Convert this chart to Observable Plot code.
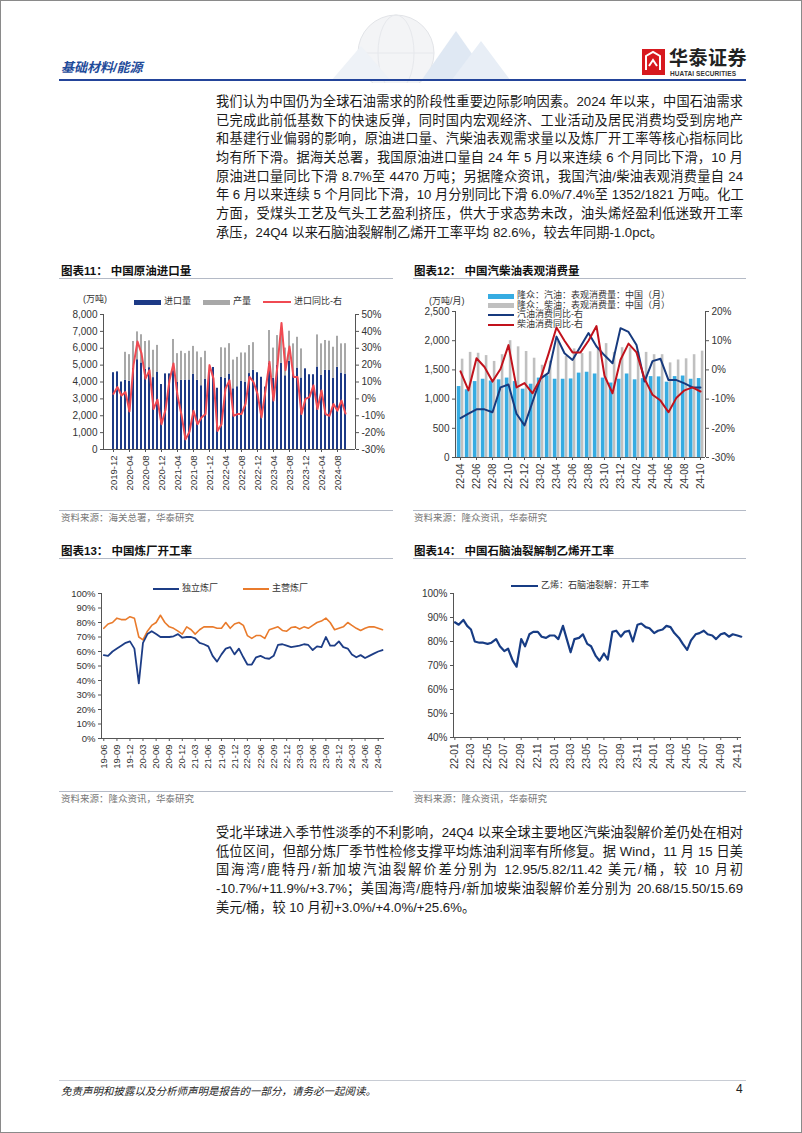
<!DOCTYPE html>
<html><head><meta charset="utf-8">
<script src="https://cdn.jsdelivr.net/npm/d3@7"></script>
<script src="https://cdn.jsdelivr.net/npm/@observablehq/plot@0.6"></script>
<style>
html,body{margin:0;padding:0;background:#fff;}
#page{position:relative;width:802px;height:1133px;box-sizing:border-box;border:1px solid #8a8a8a;overflow:hidden;font-family:"Liberation Sans","Noto Sans CJK SC",sans-serif;color:#1a1a1a;}
.abs{position:absolute;}
.para{position:absolute;left:215px;width:527px;font-size:13.2px;}
.para div{height:18.7px;line-height:18.7px;text-align:justify;text-align-last:justify;white-space:nowrap;}
.para div.last{text-align-last:left;}
.ctitle{position:absolute;font-size:11.5px;font-weight:bold;color:#111;line-height:14px;}
.hr{position:absolute;height:1px;background:#b4bac6;}
.src{position:absolute;font-size:9.5px;color:#777;line-height:12px;}
.lg{position:absolute;font-size:9px;color:#333;line-height:11px;white-space:nowrap;}
.sw{position:absolute;}
</style></head>
<body>
<div id="page">
  <svg class="abs" style="left:0;top:0" width="802" height="82">
    <circle cx="395" cy="52" r="38" fill="#f3f4f6" stroke="#e2e4e8"/>
    <ellipse cx="395" cy="52" rx="18" ry="38" fill="none" stroke="#e6e8ec"/>
    <line x1="357" y1="52" x2="433" y2="52" stroke="#e6e8ec"/>
    <polygon points="420,80 455,30 490,80" fill="#dfe8f3"/>
    <polygon points="450,80 480,40 510,80" fill="#e8eef6"/>
    <polygon points="330,80 360,45 390,80" fill="#eef2f7"/>
  </svg>
  <div class="abs" style="left:60px;top:56px;font-size:13px;font-weight:bold;font-style:italic;color:#1f4b9a;">基础材料/能源</div>
  <svg class="abs" style="left:640px;top:47px" width="26" height="28">
    <rect x="1" y="1" width="23" height="26" fill="#d7191f"/>
    <path d="M5 22 L5 8 L12 4 L19 8 L19 22" fill="none" stroke="#fff" stroke-width="2"/>
    <path d="M8 18 L12 12 L16 18" fill="none" stroke="#fff" stroke-width="2"/>
  </svg>
  <div class="abs" style="left:668px;top:48px;font-size:19px;line-height:19px;font-weight:bold;color:#222;letter-spacing:0.5px;">华泰证券</div>
  <div class="abs" style="left:669px;top:69px;font-size:6.5px;line-height:7px;font-weight:bold;color:#333;letter-spacing:0.1px;">HUATAI SECURITIES</div>
  <div class="abs" style="left:58px;top:78px;width:687px;height:2px;background:#23449a;"></div>

  <div class="para" id="p1" style="top:92px"></div>

  <div class="ctitle" style="left:60px;top:263px;">图表11：&nbsp;中国原油进口量</div>
  <div class="hr" style="left:58px;top:277px;width:334px;"></div>
  <div class="ctitle" style="left:413px;top:263px;">图表12：&nbsp;中国汽柴油表观消费量</div>
  <div class="hr" style="left:412px;top:277px;width:333px;"></div>

  <div id="c11" class="abs" style="left:50px;top:305px;"></div>
  <div id="c12" class="abs" style="left:400px;top:300px;"></div>

  <div class="hr" style="left:58px;top:509px;width:334px;"></div>
  <div class="src" style="left:60px;top:511px;">资料来源：海关总署，华泰研究</div>
  <div class="hr" style="left:412px;top:509px;width:333px;"></div>
  <div class="src" style="left:413px;top:511px;">资料来源：隆众资讯，华泰研究</div>

  <div class="ctitle" style="left:60px;top:543px;">图表13：&nbsp;中国炼厂开工率</div>
  <div class="hr" style="left:58px;top:557px;width:334px;"></div>
  <div class="ctitle" style="left:413px;top:543px;">图表14：&nbsp;中国石脑油裂解制乙烯开工率</div>
  <div class="hr" style="left:412px;top:557px;width:333px;"></div>

  <div id="c13" class="abs" style="left:50px;top:580px;"></div>
  <div id="c14" class="abs" style="left:400px;top:580px;"></div>

  <div class="hr" style="left:58px;top:790px;width:334px;"></div>
  <div class="src" style="left:60px;top:792px;">资料来源：隆众资讯，华泰研究</div>
  <div class="hr" style="left:412px;top:790px;width:333px;"></div>
  <div class="src" style="left:413px;top:792px;">资料来源：隆众资讯，华泰研究</div>

  <div class="para" id="p2" style="top:823px"></div>

  <div class="hr" style="left:58px;top:1079px;width:687px;background:#c8ccd4;"></div>
  <div class="abs" style="left:60px;top:1082px;font-size:10.5px;font-style:italic;color:#222;">免责声明和披露以及分析师声明是报告的一部分，请务必一起阅读。</div>
  <div class="abs" style="left:735px;top:1081px;font-size:12px;color:#222;">4</div>
</div>

<script>
// ---------------- text ----------------
const para1 = [
  "我们认为中国仍为全球石油需求的阶段性重要边际影响因素。2024 年以来，中国石油需求",
  "已完成此前低基数下的快速反弹，同时国内宏观经济、工业活动及居民消费均受到房地产",
  "和基建行业偏弱的影响，原油进口量、汽柴油表观需求量以及炼厂开工率等核心指标同比",
  "均有所下滑。据海关总署，我国原油进口量自 24 年 5 月以来连续 6 个月同比下滑，10 月",
  "原油进口量同比下滑 8.7%至 4470 万吨；另据隆众资讯，我国汽油/柴油表观消费量自 24",
  "年 6 月以来连续 5 个月同比下滑，10 月分别同比下滑 6.0%/7.4%至 1352/1821 万吨。化工",
  "方面，受煤头工艺及气头工艺盈利挤压，供大于求态势未改，油头烯烃盈利低迷致开工率",
  "承压，24Q4 以来石脑油裂解制乙烯开工率平均 82.6%，较去年同期-1.0pct。"
];
const para2 = [
  "受北半球进入季节性淡季的不利影响，24Q4 以来全球主要地区汽柴油裂解价差仍处在相对",
  "低位区间，但部分炼厂季节性检修支撑平均炼油利润率有所修复。据 Wind，11 月 15 日美",
  "国海湾/鹿特丹/新加坡汽油裂解价差分别为 12.95/5.82/11.42 美元/桶，较 10 月初",
  "-10.7%/+11.9%/+3.7%；美国海湾/鹿特丹/新加坡柴油裂解价差分别为 20.68/15.50/15.69",
  "美元/桶，较 10 月初+3.0%/+4.0%/+25.6%。"
];

// ---------------- chart 11 data ----------------
const c11Start = "2019-12", c11End = "2024-10";
const c11Import = [4550,
  4600,4000,4110,4040,4800,5320,5130,4750,4850,4260,4590,3850,
  4480,4480,4670,3970,4100,4110,4120,4450,4100,3780,4150,4590,
  4860,3630,4270,4230,4470,3600,3720,4050,3970,4500,4700,4550,
  4280,3700,5120,4230,5000,5100,4370,5220,4500,4830,4240,4780,
  4430,4430,4890,4400,4700,4680,4210,4870,4530,4470];
const c11Prod = [null,
  null,null,1650,1580,1600,1650,1670,1650,1590,1620,1580,null,
  null,null,1850,1710,1720,1570,1700,1660,1680,1660,1670,null,
  null,null,1760,1780,1800,1700,1740,1670,1750,1660,1630,null,
  null,null,1930,1780,1750,1870,1640,1790,1760,1820,1720,null,
  null,null,1900,1860,1760,1740,1850,1840,1730,1800];
const c11Yoy = [3,
  7,2,4,-7.5,20,34,27,12,17,-6,-0.5,-15,
  -6.5,11,21,2,-9.5,-24,-19.5,-7,-15,-11,-9,20,
  12,-19,-15,6,11,-10,-9,-9,-3,13,10,3,
  -11,5,22,-1,20,45,17,31,13,13,-9,0,
  1,8,-6,5,-9,-10,-3,-7,-1,-8.7];
const c11LeftTicks = [0,1000,2000,3000,4000,5000,6000,7000,8000];
const c11RightTicks = [-30,-20,-10,0,10,20,30,40,50];

// ---------------- chart 12 data ----------------
const c12Start = "2022-04", c12End = "2024-10";
const c12Gas = [1215,1160,1300,1340,1310,1330,1360,1300,1170,1255,1360,1400,1340,1340,1345,1445,1460,1430,1360,1275,1340,1430,1330,1350,1385,1380,1290,1385,1395,1340,1352];
const c12Dsl = [1684,1800,1785,1745,1645,1760,2000,1895,1815,1700,1580,1650,1990,1730,1860,1780,1810,1850,1950,1800,1880,1880,1800,1800,1760,1760,1620,1670,1690,1760,1821];
const c12GasYoy = [-16.5,-15,-13.5,-13.5,-14.5,-6,-5,-15,-19,-11,-3,-1,11.4,5.7,3.4,8,12.6,8,5,2.3,14.3,13,8.5,-4,3,3.8,-3.5,-3.5,-4.6,-6,-6];
const c12DslYoy = [-0.5,-7,4,1,-4,0.3,8.5,-6,-4.5,-8,-3,5.5,14.5,10,6,6,10,15,-2,-8,3.5,9,6,-3,-8.5,-10.5,-14.5,-9.5,-7,-6,-7.4];
const c12LeftTicks = [0,500,1000,1500,2000,2500];
const c12RightTicks = [-30,-20,-10,0,10,20];

// ---------------- chart 13 data (monthly, 2019-06 .. 2024-10) ----------------
const c13Start = "2019-06", c13End = "2024-10";
const c13Indep = [57.5,57,60,62,64,66,67,
  62,38,66,72,74,72,70,70,70,70.5,72,69.5,
  70,70,69,66,65,63.5,57,53,58,62,63,58,
  62,56,51,51,56,57,55.5,55,57,64.5,65,64,
  63,63.5,64,65,64.5,61,63.5,63,70,64,64,67,
  63,62,58,56,57.5,55.5,57,58.5,60,61];
const c13Main = [76,79,80,83,82,82,84,
  83,70,68,74,78,80,85,80,77,76,74,72,
  77,75,72,75,77,77,77,76,76,80,76,79,
  80,78,71,69,71,71,69,75,76,77,74.5,74,
  76.5,77,75.5,77,76,78,80,81,83,80,75,76,
  77,80,78,76,74.5,76,77,77,76,75];

// ---------------- chart 14 data (semi-monthly, 2022-01 .. 2024-11) ----------------
const c14Start = "2022-01", c14End = "2024-11";
const c14Eth = [
  88,87,89,86.5,85,80,79.5,79.5,79,79.5,81,78,76,77,72,69.5,81,78,83,84,84,82,81.5,82.5,
  82.5,81,86.5,81,75.5,81,81.5,83,79,78,74,72,75,72.5,84,84.5,82,84,84.5,80,87,87.5,86,85.5,
  83.5,84.5,85,86.5,86,83.5,81.5,79,76.5,80.5,83,83.5,84.5,83,82.5,81,83,83.5,82,83,82.5,82];

// ---------------- helpers ----------------
const parseM = d3.utcParse("%Y-%m");
const monthsBetween = (a,b) => d3.utcMonth.range(parseM(a), d3.utcMonth.offset(parseM(b),1));
const FONT = "'Liberation Sans', Arial, 'Noto Sans CJK SC', sans-serif";
const AX = "#555";
function addLines(svg, segs){
  const s = d3.select(svg);
  for (const [x1,y1,x2,y2] of segs) s.append("line").attr("x1",x1).attr("y1",y1).attr("x2",x2).attr("y2",y2)
    .attr("stroke",AX).attr("stroke-width",1).attr("shape-rendering","crispEdges");
}
function fillPara(id, lines){
  const el = document.getElementById(id);
  lines.forEach((t,i)=>{ const d=document.createElement("div"); d.textContent=t; if(i===lines.length-1) d.className="last"; el.appendChild(d); });
}
function legend(items){
  const p = document.getElementById("page");
  for (const it of items){
    const sw = document.createElement("div"); sw.className="sw";
    Object.assign(sw.style,{left:it.x+"px",top:(it.y - it.h/2)+"px",width:it.w+"px",height:it.h+"px",background:it.color});
    p.appendChild(sw);
    const t = document.createElement("div"); t.className="lg"; t.textContent=it.text;
    Object.assign(t.style,{left:(it.x+it.w+3)+"px",top:(it.y-6)+"px"});
    p.appendChild(t);
  }
}
fillPara("p1", para1);
fillPara("p2", para2);

// ---------------- chart 11 ----------------
{
  const fmt = d3.utcFormat("%Y-%m");
  const months = monthsBetween(c11Start, c11End).map(fmt);
  const data = months.map((m,i)=>({m, imp:c11Import[i], prod:c11Prod[i], yoy:c11Yoy[i]}));
  const toL = v => (v+30)*100;
  const W=340,H=200,ML=52,MR=36,MT=8,MB=57;
  const svg = Plot.plot({
    width:W,height:H,marginLeft:ML,marginRight:MR,marginTop:MT,marginBottom:MB,
    style:{fontFamily:FONT,fontSize:"10px",color:"#333",background:"transparent",overflow:"visible"},
    x:{type:"band",domain:months,paddingInner:0.42,paddingOuter:0.1},
    y:{domain:[0,8000]},
    marks:[
      Plot.barY(data,{x:"m",y1:0,y2:"imp",fill:"#1d3a86"}),
      Plot.barY(data.filter(d=>d.prod!=null),{x:"m",y1:"imp",y2:d=>d.imp+d.prod,fill:"#a8a8a8"}),
      Plot.lineY(data,{x:"m",y:d=>toL(d.yoy),stroke:"#f04a52",strokeWidth:2}),
      Plot.axisY(c11LeftTicks,{anchor:"left",tickFormat:d3.format(","),tickSize:3,tickPadding:3,stroke:AX,label:null}),
      Plot.axisY(c11RightTicks.map(toL),{anchor:"right",tickFormat:v=>Math.round(v/100-30)+"%",tickSize:3,tickPadding:3,stroke:AX,label:null}),
      Plot.axisX(months.filter((d,i)=>i%4===0),{tickRotate:-90,tickSize:3,tickPadding:3,fontSize:9.5,stroke:AX,label:null})
    ]
  });
  addLines(svg,[[ML,MT,ML,H-MB],[W-MR,MT,W-MR,H-MB],[ML,H-MB,W-MR,H-MB]]);
  document.getElementById("c11").appendChild(svg);
  const p = document.getElementById("page");
  const u = document.createElement("div"); u.className="lg"; u.textContent="(万吨)";
  Object.assign(u.style,{left:"82px",top:"293px"}); p.appendChild(u);
  legend([
    {x:133,y:301,w:27,h:5,color:"#1d3a86",text:"进口量"},
    {x:202,y:301,w:27,h:5,color:"#a8a8a8",text:"产量"},
    {x:262,y:301,w:28,h:2,color:"#f04a52",text:"进口同比-右"}
  ]);
}

// ---------------- chart 12 ----------------
{
  const fmt = d3.utcFormat("%y-%m");
  const months = monthsBetween(c12Start, c12End).map(fmt);
  const data = months.map((m,i)=>({m, gas:c12Gas[i], dsl:c12Dsl[i], gy:c12GasYoy[i], dy:c12DslYoy[i]}));
  const toL = v => (v+30)*50;
  const W=340,H=200,ML=54,MR=36,MT=10,MB=44;
  const svg = Plot.plot({
    width:W,height:H,marginLeft:ML,marginRight:MR,marginTop:MT,marginBottom:MB,
    style:{fontFamily:FONT,fontSize:"10px",color:"#333",background:"transparent",overflow:"visible"},
    x:{type:"band",domain:months,padding:0},
    y:{domain:[0,2500]},
    marks:[
      Plot.barY(data,{x:"m",y:"gas",fill:"#36ace2",insetLeft:0.8,insetRight:3.5}),
      Plot.barY(data,{x:"m",y:"dsl",fill:"#c0c0c0",insetLeft:4.8,insetRight:0.6}),
      Plot.lineY(data,{x:"m",y:d=>toL(d.gy),stroke:"#173a7e",strokeWidth:2}),
      Plot.lineY(data,{x:"m",y:d=>toL(d.dy),stroke:"#c1121c",strokeWidth:2}),
      Plot.axisY(c12LeftTicks,{anchor:"left",tickFormat:d3.format(","),tickSize:3,tickPadding:3,stroke:AX,label:null}),
      Plot.axisY(c12RightTicks.map(toL),{anchor:"right",tickFormat:v=>Math.round(v/50-30)+"%",tickSize:3,tickPadding:3,stroke:AX,label:null}),
      Plot.axisX(months.filter((d,i)=>i%2===0),{tickRotate:-90,tickSize:3,tickPadding:3,fontSize:10,stroke:AX,label:null})
    ]
  });
  addLines(svg,[[ML,MT,ML,H-MB],[W-MR,MT,W-MR,H-MB],[ML,H-MB,W-MR,H-MB]]);
  document.getElementById("c12").appendChild(svg);
  const p = document.getElementById("page");
  const u = document.createElement("div"); u.className="lg"; u.textContent="(万吨/月)";
  Object.assign(u.style,{left:"428px",top:"295px"}); p.appendChild(u);
  legend([
    {x:487,y:295,w:26,h:5,color:"#36ace2",text:"隆众：汽油：表观消费量：中国（月）"},
    {x:487,y:304.5,w:26,h:5,color:"#c0c0c0",text:"隆众：柴油：表观消费量：中国（月）"},
    {x:487,y:314,w:26,h:2,color:"#173a7e",text:"汽油消费同比-右"},
    {x:487,y:323.5,w:26,h:2,color:"#c1121c",text:"柴油消费同比-右"}
  ]);
}

// ---------------- chart 13 ----------------
{
  const dates = monthsBetween(c13Start, c13End);
  const indep = dates.map((d,i)=>({d, v:c13Indep[i]}));
  const main = dates.map((d,i)=>({d, v:c13Main[i]}));
  const W=335,H=200,ML=50,MR=2,MT=12,MB=43;
  const ticks = dates.filter((d,i)=>i%3===0);
  const svg = Plot.plot({
    width:W,height:H,marginLeft:ML,marginRight:MR,marginTop:MT,marginBottom:MB,
    style:{fontFamily:FONT,fontSize:"10px",color:"#333",background:"transparent",overflow:"visible"},
    x:{type:"utc",domain:[new Date(Date.UTC(2019,4,16)),new Date(Date.UTC(2024,9,15))]},
    y:{domain:[0,100]},
    marks:[
      Plot.lineY(main,{x:"d",y:"v",stroke:"#e97b2c",strokeWidth:1.6}),
      Plot.lineY(indep,{x:"d",y:"v",stroke:"#1d3d86",strokeWidth:1.8}),
      Plot.axisY(d3.range(0,101,10),{anchor:"left",tickFormat:d=>d+"%",tickSize:3,tickPadding:3,stroke:AX,fontSize:9.5,label:null}),
      Plot.axisX(ticks,{tickRotate:-90,tickFormat:d3.utcFormat("%y-%m"),tickSize:3,tickPadding:3,fontSize:9.5,stroke:AX,label:null})
    ]
  });
  addLines(svg,[[ML,MT,ML,H-MB],[ML,H-MB,W-MR,H-MB]]);
  document.getElementById("c13").appendChild(svg);
  legend([
    {x:152,y:588,w:26,h:2,color:"#1d3d86",text:"独立炼厂"},
    {x:242,y:588,w:26,h:2,color:"#e97b2c",text:"主营炼厂"}
  ]);
}

// ---------------- chart 14 ----------------
{
  const months = monthsBetween(c14Start, c14End);
  const dates = months.flatMap(m=>[m, d3.utcDay.offset(m,14)]);
  const data = dates.map((d,i)=>({d, v:c14Eth[i]}));
  const W=342,H=200,ML=52,MR=2,MT=12,MB=44;
  const ticks = months.filter((d,i)=>i%2===0);
  const svg = Plot.plot({
    width:W,height:H,marginLeft:ML,marginRight:MR,marginTop:MT,marginBottom:MB,
    style:{fontFamily:FONT,fontSize:"10px",color:"#333",background:"transparent",overflow:"visible"},
    x:{type:"utc",domain:[new Date(Date.UTC(2021,11,27)),new Date(Date.UTC(2024,10,16))]},
    y:{domain:[40,100]},
    marks:[
      Plot.lineY(data,{x:"d",y:"v",stroke:"#173c84",strokeWidth:2.2}),
      Plot.axisY(d3.range(40,101,10),{anchor:"left",tickFormat:d=>d+"%",tickSize:3,tickPadding:3,stroke:AX,fontSize:10,label:null}),
      Plot.axisX(ticks,{tickRotate:-90,tickFormat:d3.utcFormat("%y-%m"),tickSize:3,tickPadding:3,fontSize:10,stroke:AX,label:null})
    ]
  });
  addLines(svg,[[ML,MT,ML,H-MB],[ML,H-MB,W-MR,H-MB]]);
  document.getElementById("c14").appendChild(svg);
  legend([
    {x:510,y:585,w:27,h:2.5,color:"#173c84",text:"乙烯：石脑油裂解：开工率"}
  ]);
}
</script>
</body></html>
